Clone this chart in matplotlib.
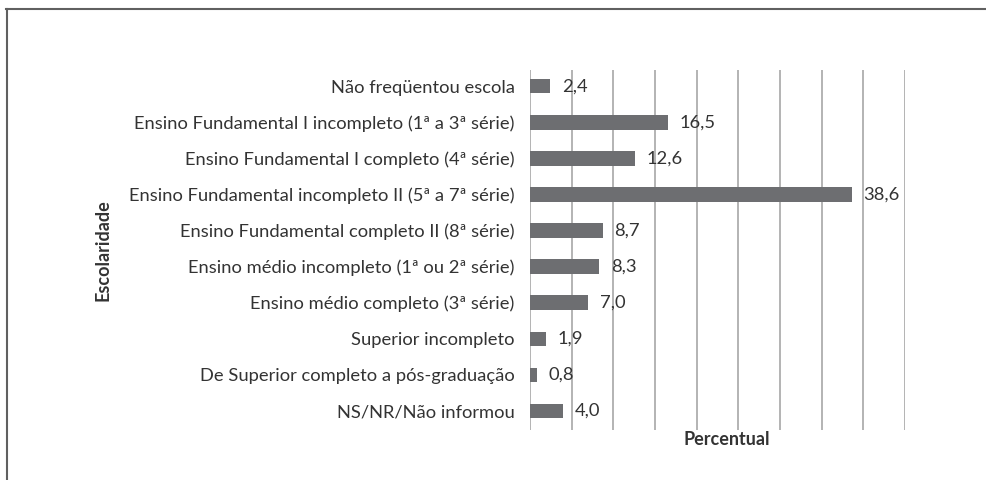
import numpy as np
import matplotlib.pyplot as plt
from matplotlib.lines import Line2D

plt.rcParams['font.family'] = ['Lato', 'DejaVu Sans']

categorias = [
    "Não freqüentou escola",
    "Ensino Fundamental I incompleto (1ª a 3ª série)",
    "Ensino Fundamental I completo (4ª série)",
    "Ensino Fundamental incompleto II (5ª a 7ª série)",
    "Ensino Fundamental completo II (8ª série)",
    "Ensino médio incompleto (1ª ou 2ª série)",
    "Ensino médio completo (3ª série)",
    "Superior incompleto",
    "De Superior completo a pós-graduação",
    "NS/NR/Não informou",
]
percentual = [2.4, 16.5, 12.6, 38.6, 8.7, 8.3, 7.0, 1.9, 0.8, 4.0]
grid_ticks = np.arange(0, 50, 5)

txt = '#333333'
fig = plt.figure(figsize=(9.86, 4.8), dpi=100)
ax = fig.add_axes([530/986, 1-430/480, 375/986, 360/480])

y = np.arange(len(categorias))
ax.barh(y, percentual, height=0.4, color='#6d6e71', zorder=3)
for yi, v in zip(y, percentual):
    ax.annotate(f"{v:.1f}".replace('.', ','), (v, yi), xytext=(8.5, 0),
                textcoords='offset points', va='center', ha='left',
                fontsize=13.2, color=txt, zorder=4)

ax.set_xlim(0, 45)
ax.set_ylim(len(categorias) - 0.47, -0.45)
ax.set_xticks(grid_ticks)
ax.set_xticklabels([])
ax.tick_params(axis='x', length=0)
ax.tick_params(axis='y', length=0, pad=11, labelsize=13.2, labelcolor=txt)
ax.set_yticks(y)
ax.set_yticklabels(categorias)
ax.grid(axis='x', color='#b3b3b3', linewidth=1.4, zorder=0)
for s in ax.spines.values():
    s.set_visible(False)

ax.set_xlabel("Percentual", fontsize=13, fontweight='bold', color=txt, labelpad=0)
ax.xaxis.set_label_coords(0.525, -0.003)
fig.text(103/986, 1-250/480, "Escolaridade", rotation=90, ha='center', va='center',
         fontsize=13, fontweight='bold', color=txt)

# frame lines (top and left) of the cropped figure
fig.add_artist(Line2D([6/986, 1], [1-8.5/480, 1-8.5/480], color='#606060', linewidth=1.5,
                      transform=fig.transFigure))
fig.add_artist(Line2D([6.5/986, 6.5/986], [0, 1-8.5/480], color='#606060', linewidth=1.5,
                      transform=fig.transFigure))

fig.savefig('out.png', dpi=100)
